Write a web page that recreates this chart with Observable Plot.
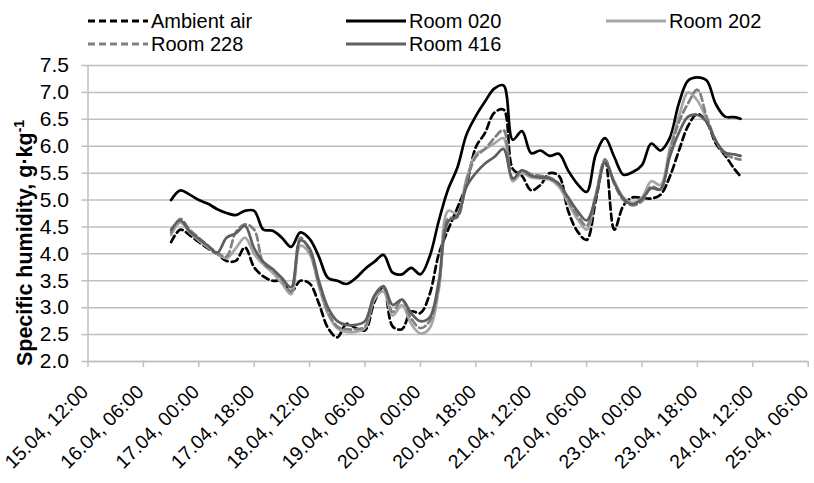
<!DOCTYPE html>
<html><head><meta charset="utf-8">
<script src="https://cdn.jsdelivr.net/npm/d3@7"></script>
<script src="https://cdn.jsdelivr.net/npm/@observablehq/plot@0.6"></script>
<style>
body{margin:0;background:#fff;font-family:"Liberation Sans",Arial,sans-serif;}
#wrap{position:relative;width:814px;height:483px;overflow:hidden;}
.leg{position:absolute;display:flex;align-items:center;font-size:20px;color:#000;height:24px;white-space:nowrap;}
.leg svg{display:block;margin-right:3px;}
</style></head><body><div id="wrap"></div>
<script>
const times = ["16.04 15:00","16.04 18:00","16.04 21:00","17.04 00:00","17.04 03:00","17.04 06:00","17.04 09:00","17.04 12:00","17.04 15:00","17.04 18:00","17.04 21:00",
"18.04 00:00","18.04 03:00","18.04 06:00","18.04 09:00","18.04 12:00","18.04 15:00","18.04 18:00","18.04 21:00",
"19.04 00:00","19.04 03:00","19.04 06:00","19.04 09:00","19.04 12:00","19.04 15:00","19.04 18:00","19.04 21:00",
"20.04 00:00","20.04 03:00","20.04 06:00","20.04 09:00","20.04 12:00","20.04 15:00","20.04 18:00","20.04 21:00",
"21.04 00:00","21.04 03:00","21.04 06:00","21.04 09:00","21.04 12:00","21.04 15:00","21.04 18:00","21.04 21:00",
"22.04 00:00","22.04 03:00","22.04 06:00","22.04 09:00","22.04 12:00","22.04 15:00","22.04 18:00","22.04 21:00",
"23.04 00:00","23.04 03:00","23.04 06:00","23.04 09:00","23.04 12:00","23.04 15:00","23.04 18:00","23.04 21:00",
"24.04 00:00","24.04 03:00","24.04 06:00","24.04 08:00"];

const ambientAir = [4.22,4.45,4.35,4.22,4.10,4.00,3.87,3.87,4.12,3.75,3.58,
3.50,3.50,3.30,3.50,3.45,3.08,2.62,2.45,
2.70,2.62,2.58,3.10,3.38,2.65,2.60,2.93,
2.90,3.25,4.00,4.45,4.85,5.30,5.98,6.25,
6.62,6.68,5.58,5.45,5.18,5.28,5.50,5.45,
4.80,4.42,4.26,5.00,5.75,4.45,4.90,5.05,
5.04,5.03,5.10,5.43,5.92,6.38,6.60,6.45,
6.05,5.83,5.58,5.44];

const room020 = [5.00,5.18,5.10,5.00,4.93,4.83,4.76,4.72,4.80,4.80,4.45,
4.43,4.30,4.13,4.40,4.28,3.95,3.55,3.50,
3.44,3.55,3.72,3.85,3.98,3.65,3.62,3.74,
3.62,3.95,4.62,5.20,5.60,6.22,6.56,6.83,
7.07,7.13,6.12,6.28,5.87,5.92,5.82,5.86,
5.55,5.30,5.15,5.85,6.15,5.80,5.47,5.52,
5.65,6.05,5.92,6.15,6.80,7.22,7.28,7.22,
6.78,6.55,6.54,6.51];

const room202 = [4.35,4.58,4.40,4.25,4.12,4.00,3.92,4.10,4.30,4.00,3.80,
3.65,3.45,3.25,4.15,4.00,3.40,2.88,2.62,
2.55,2.55,2.62,3.15,3.30,2.85,3.05,2.70,
2.52,2.62,3.35,4.80,4.75,5.40,5.85,5.95,
6.05,6.15,5.35,5.50,5.42,5.40,5.38,5.25,
4.95,4.65,4.45,5.10,5.72,5.35,5.05,4.95,
5.05,5.35,5.28,5.95,6.55,7.00,6.85,6.50,
6.10,5.88,5.85,5.82];

const room228 = [4.40,4.65,4.45,4.30,4.15,4.02,3.95,4.40,4.55,4.45,3.82,
3.70,3.52,3.30,4.30,4.05,3.45,2.92,2.65,
2.60,2.60,2.65,3.22,3.38,2.92,3.15,2.80,
2.62,2.75,3.40,4.65,4.68,5.35,5.80,5.95,
6.15,6.30,5.40,5.55,5.48,5.45,5.42,5.30,
5.00,4.72,4.52,5.10,5.75,5.30,5.00,4.90,
4.98,5.25,5.20,5.88,6.45,6.80,7.05,6.55,
6.10,5.85,5.78,5.75];

const room416 = [4.45,4.62,4.42,4.28,4.15,4.02,4.30,4.38,4.52,4.10,3.85,
3.72,3.55,3.38,4.25,4.10,3.50,3.00,2.75,
2.68,2.68,2.75,3.22,3.40,3.05,3.15,2.90,
2.75,2.82,3.50,4.60,4.70,5.25,5.50,5.68,
5.80,5.95,5.40,5.55,5.45,5.42,5.40,5.30,
5.05,4.80,4.62,5.05,5.70,5.32,5.02,4.92,
5.02,5.22,5.20,5.80,6.25,6.55,6.58,6.45,
6.10,5.88,5.85,5.82];

const seriesNames = ["Ambient air","Room 020","Room 202","Room 228","Room 416"];
const seriesValues = [ambientAir, room020, room202, room228, room416];
const seriesColors = ["#000000","#000000","#a6a6a6","#808080","#5f5f5f"];
const seriesDash = ["7,4",null,null,"7,4",null];

const xTickLabels = ["15.04, 12:00","16.04, 06:00","17.04, 00:00","17.04, 18:00","18.04, 12:00","19.04, 06:00","20.04, 00:00","20.04, 18:00","21.04, 12:00","22.04, 06:00","23.04, 00:00","23.04, 18:00","24.04, 12:00","25.04, 06:00"];
const yTicks = [2.0,2.5,3.0,3.5,4.0,4.5,5.0,5.5,6.0,6.5,7.0,7.5];

const parseT = d3.utcParse("%d.%m %H:%M");
const parseTick = d3.utcParse("%d.%m, %H:%M");
const tDates = times.map(parseT);
const xTicks = xTickLabels.map(parseTick);

const font = '"Liberation Sans", Arial, sans-serif';
const gridColor = "#bfbfbf";

const lineMarks = seriesNames.map((name, k) => {
  const data = tDates.map((t, i) => ({t, v: seriesValues[k][i]}));
  return Plot.line(data, {x: "t", y: "v", stroke: seriesColors[k], strokeWidth: 2.7,
    strokeDasharray: seriesDash[k] || undefined, curve: "catmull-rom"});
});

const chart = Plot.plot({
  width: 814, height: 483,
  marginLeft: 87.5, marginRight: 6.3, marginTop: 65, marginBottom: 122,
  style: {fontFamily: font, background: "white", color: "black", overflow: "visible"},
  x: {type: "utc", domain: [xTicks[0], xTicks[xTicks.length-1]], label: null, axis: null},
  y: {domain: [2, 7.5], label: null, axis: null},
  marks: [
    Plot.ruleY(yTicks, {stroke: gridColor, strokeWidth: 1.5}),
    Plot.axisY(yTicks, {tickSize: 6, tickPadding: 13, tickFormat: d => d.toFixed(1), fontSize: 21, stroke: gridColor, strokeWidth: 1.5, fill: "black", label: null}),
    Plot.ruleX([xTicks[0]], {stroke: gridColor, strokeWidth: 1.5}),
    Plot.ruleY([2], {stroke: gridColor, strokeWidth: 1.5}),
    Plot.axisX(xTicks, {tickSize: 6, tickFormat: () => "", stroke: gridColor, strokeWidth: 1.5, label: null}),
    Plot.text(xTicks, {x: d => d, text: (d, i) => xTickLabels[i], frameAnchor: "bottom", rotate: -45,
      textAnchor: "end", lineAnchor: "bottom", dx: 1.5, dy: 31.5, fontSize: 19.5, fill: "black"}),
    ...lineMarks
  ]
});

// y-axis title with superscript
const svg = d3.select(chart);
const yt = svg.append("text")
  .attr("transform", "translate(32,243) rotate(-90)")
  .attr("text-anchor", "middle")
  .attr("font-family", font)
  .attr("font-weight", "bold")
  .attr("font-size", 21.5)
  .attr("fill", "black");
yt.append("tspan").text("Specific humidity, g·kg");
yt.append("tspan").attr("font-size", 14).attr("dy", -8).text("-1");

const wrap = document.getElementById("wrap");
wrap.appendChild(chart);

// legend
const legendItems = [
  {k: 0, left: 88, top: 21},
  {k: 1, left: 346, top: 21},
  {k: 2, left: 606, top: 21},
  {k: 3, left: 88, top: 44},
  {k: 4, left: 346, top: 44}
];
legendItems.forEach(({k, left, top}) => {
  const div = document.createElement("div");
  div.className = "leg";
  div.style.left = left + "px";
  div.style.top = (top - 12) + "px";
  const dash = seriesDash[k] ? `stroke-dasharray="7,4"` : "";
  div.innerHTML = `<svg width="60" height="24"><line x1="0" x2="60" y1="12" y2="12" stroke="${seriesColors[k]}" stroke-width="3" ${dash}/></svg><span>${seriesNames[k]}</span>`;
  wrap.appendChild(div);
});
</script></body></html>
